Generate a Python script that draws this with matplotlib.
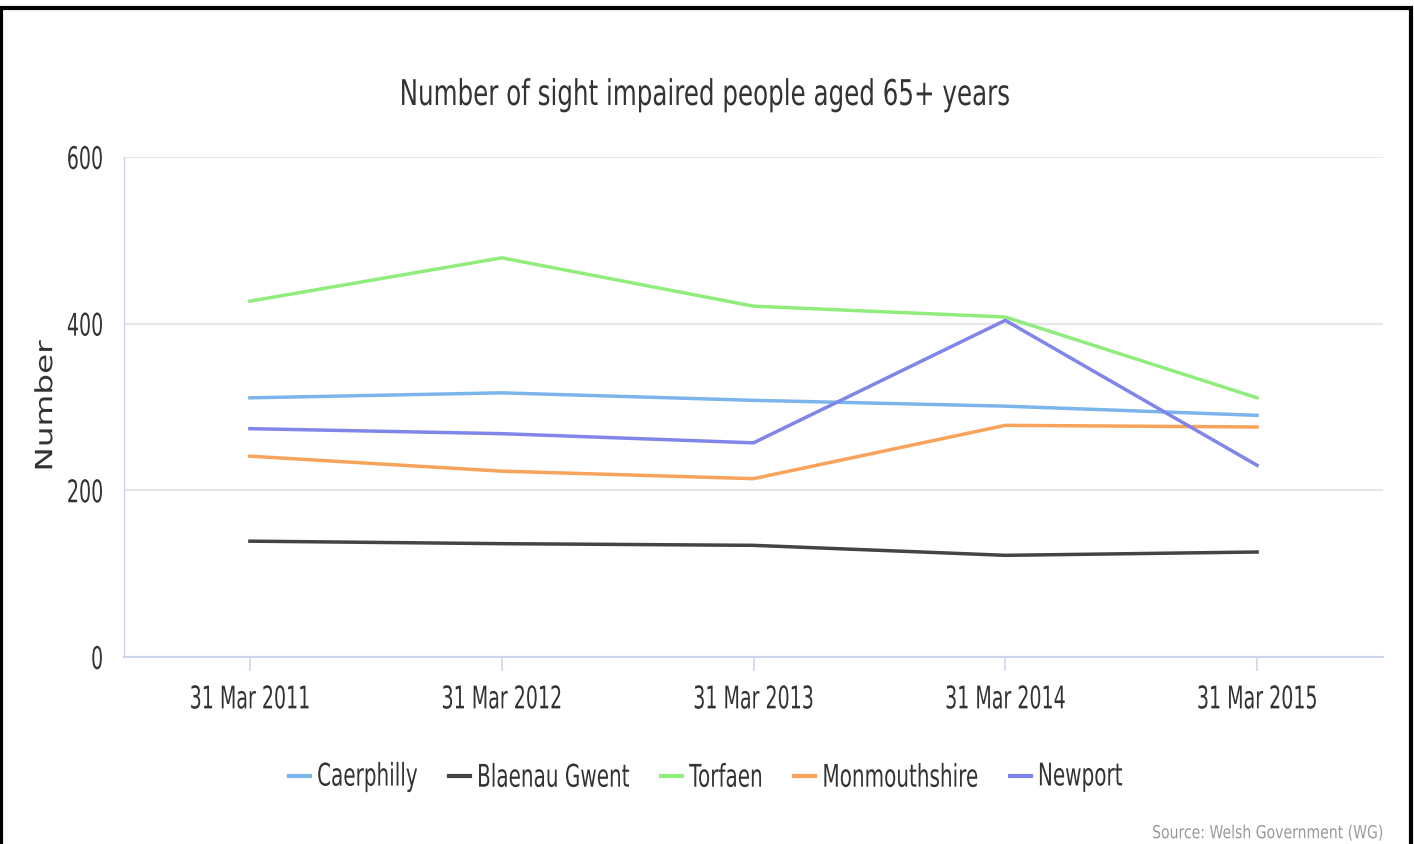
import matplotlib.pyplot as plt
from matplotlib.patheffects import AbstractPathEffect
from matplotlib.transforms import Affine2D
from matplotlib.patches import Rectangle

dates = ["31 Mar 2011", "31 Mar 2012", "31 Mar 2013", "31 Mar 2014", "31 Mar 2015"]
caerphilly = [311, 317, 308, 301, 290]
blaenau_gwent = [139, 136, 134, 122, 126]
torfaen = [427, 479, 421, 408, 311]
monmouthshire = [241, 223, 214, 278, 276]
newport = [274, 268, 257, 404, 230]

noms = ["Caerphilly", "Blaenau Gwent", "Torfaen", "Monmouthshire", "Newport"]
valeurs = [caerphilly, blaenau_gwent, torfaen, monmouthshire, newport]
couleurs = ["#7cb5ec", "#434348", "#90ed7d", "#f7a35c", "#8085e9"]

W, H = 1414, 845


# la police de la capture est tres etroite : on prend une taille plus petite
# et on etire le texte en hauteur autour de son centre
class Haut(AbstractPathEffect):
    def __init__(self, sy):
        super().__init__()
        self.sy = sy

    def draw_path(self, renderer, gc, tpath, affine, rgbFace=None):
        ext = tpath.get_extents()
        cy = (ext.y0 + ext.y1) / 2
        aff = Affine2D().translate(0, -cy).scale(1, self.sy).translate(0, cy) + affine
        renderer.draw_path(gc, tpath, aff, rgbFace)


fig = plt.figure(figsize=(W / 100, H / 100), dpi=100)
ax = fig.add_axes([124 / W, 1 - 658 / H, (1383 - 124) / W, (658 - 158) / H])

x = list(range(len(dates)))
for nom, vals, coul in zip(noms, valeurs, couleurs):
    ax.plot(x, vals, color=coul, lw=2.5, label=nom)

ax.set_xlim(-0.5, 4.5)
ax.set_ylim(0, 600)
ax.set_yticks([0, 200, 400, 600])
ax.set_xticks(x)
ax.set_xticklabels(dates)
for t in ax.get_xticklabels() + ax.get_yticklabels():
    t.set_fontsize(13.7)
    t.set_color('#333333')
    t.set_path_effects([Haut(1.64)])

ax.yaxis.grid(True, color='#e6e6e6', lw=1.5)
ax.set_axisbelow(True)
for s in ['top', 'right']:
    ax.spines[s].set_visible(False)
ax.spines['bottom'].set_color('#ccd6eb')
ax.spines['left'].set_color('#ccd6eb')
ax.spines['bottom'].set_linewidth(1.5)
ax.spines['left'].set_linewidth(1.0)
ax.tick_params(axis='x', length=10, color='#ccd6eb', width=1.2, pad=13)
ax.tick_params(axis='y', length=0, pad=15)

# titre de l'axe y, plus large que haut
fig.text(46 / W, 1 - 407 / H, "Number", rotation=90, ha='center', va='center',
         fontsize=23.5, color='#333333', path_effects=[Haut(0.725)])

fig.text(706 / W, 1 - 96 / H, "Number of sight impaired people aged 65+ years",
         ha='center', va='center', fontsize=17.7, color='#333333',
         path_effects=[Haut(1.44)])

fig.text(1383 / W, 1 - 834 / H, "Source: Welsh Government (WG)", ha='right', va='center',
         fontsize=10.1, color='#999999', path_effects=[Haut(1.28)])

leg = fig.legend(loc='center', bbox_to_anchor=(706 / W, 1 - 778 / H), ncol=5,
                 frameon=False, fontsize=14.4, handlelength=1.05, handletextpad=0.35,
                 columnspacing=1.55, borderpad=0)
for t in leg.get_texts():
    t.set_color('#333333')
    t.set_path_effects([Haut(1.5625)])
for h in leg.get_lines():
    h.set_linewidth(3)

# cadre noir de la capture
fig.patches.append(Rectangle((1 / W, -0.01), 1410 / W, 1 - 9 / H + 0.01,
                             transform=fig.transFigure, fill=False, edgecolor='black', lw=3))

fig.savefig("out.png", dpi=100)
